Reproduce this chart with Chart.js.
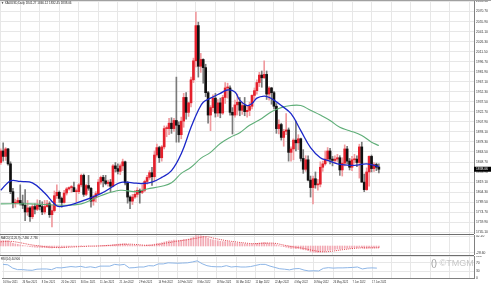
<!DOCTYPE html>
<html>
<head>
<meta charset="utf-8">
<script src="https://cdn.jsdelivr.net/npm/chart.js@4.4.1/dist/chart.umd.min.js"></script>
<style>
html, body { margin: 0; padding: 0; background: #fff; }
#wrap { position: relative; width: 491px; height: 290px; overflow: hidden; background: #fff; font-family: "Liberation Sans", Arial, sans-serif; }
canvas { position: absolute; left: 0; }
.sep { position: absolute; left: 0; width: 474px; height: 1px; background: #6e6e6e; z-index: 3; }
.lbl { position: absolute; left: 1px; color: #222; white-space: nowrap; line-height: 1; z-index: 4; }
#logo { position: absolute; left: 431px; top: 258px; font-size: 9px; color: #c6c6c6; white-space: nowrap; z-index: 4; }
</style>
</head>
<body>
<div id="wrap">
  <div class="sep" style="top:0;width:491px;background:#a0a0a0"></div>
  <canvas id="main" width="491" height="234" style="top:0"></canvas>
  <div class="sep" style="top:234px"></div>
  <canvas id="macd" width="491" height="20" style="top:235px"></canvas>
  <div class="sep" style="top:255px"></div>
  <canvas id="rsi" width="491" height="34" style="top:256px"></canvas>
  <div class="lbl" id="hdr" style="top:2px;font-size:3px"></div>
  <div class="lbl" id="macdLbl" style="top:237px;font-size:2.8px"></div>
  <div class="lbl" id="rsiLbl" style="top:258px;font-size:2.8px"></div>
  <div id="logo"><span style="color:#9a9a9a">()</span> &copy;TMGM</div>
</div>
<script>
// XAUUSD daily, 16 Nov 2021 .. 22 Jun 2022 (one value per bar)
var opens = [1848,1865,1857,1868,1846,1805,1788,1789,1792,1788,1785,
  1775,1781,1768,1783,1779,1785,1783,1775,1783,1787,1771,1777,1799,1804,1795,1789,1803,1809,1811,1811,1805,1805,1815,
  1829,1801,1814,1810,1791,1797,1802,1819,1826,1821,1817,1819,1813,1843,1839,1835,1843,1849,1818,1797,1791,
  1797,1801,1807,1804,1807,1820,1826,1833,1827,1859,1870,1855,1871,1898,1898,1906,1898,1910,1903,1889,
  1909,1944,1922,1936,1970,1998,2050,1990,2000,1988,1951,1918,1929,1943,1921,1936,1921,1944,1958,1958,1922,1918,1933,
  1937,1925,1932,1923,1925,1931,1947,1954,1966,1977,1973,1978,1949,1958,1951,1931,1898,1904,1885,1894,
  1896,1863,1868,1881,1877,1883,1854,1838,1852,1822,1811,1824,1815,1816,1841,1846,1853,1865,1853,1851,1853,1855,
  1837,1847,1868,1850,1841,1852,1853,1848,1871,1819,1808,1834,1857,1839,1845,1841.27];
var highs = [1868,1877,1870,1869,1849,1810,1794,1796,1815,1800,1808,
  1792,1783,1786,1787,1793,1792,1790,1792,1792,1790,1785,1806,1815,1806,1797,1807,1811,1812,1814,1819,1809,1817,1831,
  1831,1816,1829,1811,1800,1805,1823,1828,1829,1829,1822,1823,1845,1848,1846,1846,1853,1850,1820,1799,1801,
  1807,1811,1809,1815,1822,1829,1836,1841,1865,1875,1872,1873,1902,1902,1913,1914,1913,1974,1908,1915,
  1950,1951,1937,1974,2002,2070,2055,2009,2001,1993,1953,1932,1948,1950,1941,1943,1947,1966,1965,1961,1929,1940,1949,
  1944,1937,1944,1932,1937,1948,1958,1970,1981,1983,1998,1983,1960,1959,1953,1935,1911,1906,1897,1920,
  1899,1871,1883,1909,1889,1884,1867,1858,1858,1828,1828,1834,1823,1849,1850,1865,1870,1869,1857,1858,1860,1858,
  1855,1874,1872,1854,1857,1860,1858,1875,1878,1831,1840,1858,1859,1848,1847,1846.12];
var lows = [1845,1850,1851,1844,1802,1781,1782,1787,1785,1780,1762,
  1770,1761,1765,1772,1777,1778,1771,1772,1782,1767,1753,1775,1795,1789,1782,1788,1800,1807,1804,1805,1790,1802,1812,
  1798,1799,1807,1782,1785,1790,1800,1816,1812,1815,1813,1805,1812,1834,1831,1830,1836,1815,1788,1780,1786,
  1795,1797,1788,1802,1805,1816,1823,1814,1821,1856,1848,1850,1868,1886,1889,1891,1894,1878,1878,1883,
  1900,1912,1916,1930,1966,1989,1974,1981,1965,1945,1906,1895,1923,1915,1916,1914,1919,1935,1943,1918,1890,1915,1918,
  1917,1919,1917,1915,1917,1927,1941,1949,1960,1959,1972,1941,1940,1934,1927,1891,1890,1881,1872,1889,
  1850,1850,1852,1865,1867,1850,1832,1835,1821,1797,1787,1810,1807,1812,1835,1844,1850,1846,1843,1847,1849,1829,
  1828,1843,1846,1837,1836,1847,1842,1825,1819,1805,1807,1813,1834,1835,1836,1832.45];
var closes = [1865,1857,1868,1846,1805,1788,1789,1792,1788,1785,1775,
  1781,1768,1783,1779,1785,1783,1775,1783,1787,1771,1777,1799,1804,1795,1789,1803,1809,1811,1811,1805,1805,1815,1829,
  1801,1814,1810,1791,1797,1802,1819,1826,1821,1817,1819,1813,1843,1839,1835,1843,1849,1818,1797,1791,1797,
  1801,1807,1804,1807,1820,1826,1833,1827,1859,1870,1855,1871,1898,1898,1906,1898,1910,1903,1889,1909,
  1944,1922,1936,1970,1998,2050,1990,2000,1988,1951,1918,1929,1943,1921,1936,1921,1944,1958,1958,1922,1918,1933,1937,
  1925,1932,1923,1925,1931,1947,1954,1966,1977,1973,1978,1949,1958,1951,1931,1898,1904,1885,1894,1896,
  1863,1868,1881,1877,1883,1854,1838,1852,1822,1811,1824,1815,1816,1841,1846,1853,1865,1853,1851,1853,1855,1837,
  1847,1868,1850,1841,1852,1853,1848,1871,1819,1808,1834,1857,1839,1845,1841,1838.06];

// moving averages: bar index / price
var maFastIdx = [0,4,8,13,18,22,24,30,41,48,50,54,58,62,66,70,74,78,81,83,86,90,93,96,98,101,103,105,108,110,112,115,119,123,127,131,134,138,142,146,150,155];
var maFastVal = [1807,1821,1820,1818,1803,1787,1783,1787,1802,1817,1819,1818,1817,1819,1826,1836,1861,1900,1925,1937,1943,1950,1955,1952,1940,1932,1935,1943,1946,1944,1940,1932,1920,1895,1870,1855,1851,1846,1844,1844,1846,1842];
var maSlowIdx = [0,12,25,33,41,49,55,60,66,70,74,78,82,86,90,94,98,102,107,111,115,119,123,127,131,135,139,143,148,152,155];
var maSlowVal = [1787,1787,1785,1787,1799,1807,1805,1809,1813,1818,1832,1841,1854,1863,1876,1885,1892,1903,1913,1923,1929,1932,1932,1925,1918,1910,1900,1895,1888,1878,1873];

// MACD(12,26,9) main, one per bar; signal read at sample bars
var macdMain = [22,23,23,22,17,12,9,7,5,3,1,
  -1,-3,-4,-5,-6,-6,-7,-7,-7,-8,-8,-7,-6,-6,-6,-5,-4,-3,-2,-2,-2,-1,1,
  0,0,1,0,0,0,1,2,3,3,4,4,6,7,8,9,10,9,7,5,4,
  3,3,2,2,3,4,5,5,8,11,12,14,17,20,22,23,25,25,24,25,
  28,28,30,34,38,45,44,44,42,38,33,29,27,24,22,20,19,19,19,16,14,13,12,
  11,10,9,8,7,8,9,11,13,14,15,13,12,11,9,5,2,-1,-3,-5,
  -8,-10,-10,-11,-11,-13,-16,-17,-20,-24,-26,-27,-28,-26,-24,-22,-19,-18,-16,-15,-13,-13,
  -12,-10,-9,-9,-8,-7,-7,-5,-7,-10,-10,-8,-8,-8,-8,-7.46];
var signalIdx = [0,4,8,12,16,20,24,28,32,36,40,44,48,52,56,60,64,68,72,76,80,84,88,92,96,100,104,108,112,116,120,124,128,132,136,140,144,148,152,155];
var signalVal = [18,20,14,6,0,-5,-7,-5,-3,-1,0,2,5,8,6,3,6,13,20,26,33,40,32,24,18,13,10,12,12,4,-4,-10,-19,-25,-22,-16,-11,-8,-8,-7.736];

// RSI(14), read every second bar
var rsiEvery2 = [62,60,45,38,38,36,
  35,40,41,41,38,47,46,49,52,50,53,
  48,51,47,54,54,54,62,59,62,46,47,
  50,50,56,55,64,64,69,68,67,68,
  69,73,78,65,56,52,51,51,56,50,52,
  50,50,52,57,62,62,54,48,42,40,
  37,42,43,36,32,33,32,44,47,45,46,
  46,47,48,50,41,45,46,45];

var dateTicks = ['16 Nov 2021','26 Nov 2021','8 Dec 2021','20 Dec 2021','30 Dec 2021','11 Jan 2022','21 Jan 2022',
  '2 Feb 2022','14 Feb 2022','24 Feb 2022','8 Mar 2022','18 Mar 2022','30 Mar 2022','11 Apr 2022','22 Apr 2022',
  '4 May 2022','16 May 2022','26 May 2022','7 Jun 2022','17 Jun 2022'];
var priceTicks = [2085.5,2070.7,2055.9,2041.1,2026.3,2011.5,1996.7,1981.9,1967.1,1952.3,1937.5,1922.7,
  1907.9,1893.1,1878.3,1863.5,1848.7,1833.9,1819.1,1804.3,1789.5,1774.7,1759.9,1745.1];
var macdTicks = [42.1, 0, -28.6];
var rsiTicks = [100, 70, 30, 0];

var FONT = "'Liberation Sans', Arial, sans-serif";
var GRID = '#e7e7e7';
var AXIS = '#808080';
var n = closes.length;
var barsPerLabel = 8;
var gridIdx = [];
for (var k = 0; k <= 192; k += barsPerLabel) gridIdx.push(k);

document.getElementById('hdr').textContent = '\u25BC XAUUSD,Daily  ' + opens[n-1].toFixed(2) + ' ' + highs[n-1].toFixed(2) + ' ' + lows[n-1].toFixed(2) + ' ' + closes[n-1].toFixed(2);
document.getElementById('macdLbl').textContent = 'MACD(12,26,9) ' + macdMain[n-1].toFixed(3) + ' ' + signalVal[signalVal.length-1].toFixed(3);
document.getElementById('rsiLbl').textContent = 'RSI(14) 44.906';

function xScale(showLabels, height) {
  return {
    type: 'linear', min: -0.3, max: 194, offset: false,
    afterBuildTicks: function (s) { s.ticks = gridIdx.map(function (v) { return { value: v }; }); },
    afterFit: function (s) { s.height = height; },
    grid: { color: GRID, drawTicks: false, offset: false },
    border: { display: showLabels, color: AXIS },
    ticks: {
      display: showLabels, align: 'start', padding: 3, maxRotation: 0, autoSkip: false,
      font: { size: 2.6, family: FONT }, color: '#333',
      callback: function (v) { return dateTicks[v / barsPerLabel] || ''; }
    }
  };
}
function yScale(min, max, tickList, fmt) {
  return {
    position: 'right', min: min, max: max,
    afterBuildTicks: function (s) { s.ticks = tickList.map(function (v) { return { value: v }; }); },
    afterFit: function (s) { s.width = 17; s.paddingTop = 0; s.paddingBottom = 0; },
    grid: { color: GRID, drawTicks: false },
    border: { color: AXIS },
    ticks: { padding: 2, font: { size: 3.3, family: FONT }, color: '#333', callback: fmt }
  };
}
var base = {
  responsive: false, animation: false, events: [],
  plugins: { legend: { display: false }, tooltip: { enabled: false } }
};

var lastPriceTag = {
  id: 'lastPriceTag',
  afterDraw: function (chart) {
    var a = chart.chartArea, ctx = chart.ctx;
    var y = chart.scales.y.getPixelForValue(closes[n-1]);
    ctx.save();
    ctx.fillStyle = '#000';
    ctx.fillRect(a.right, y - 2.5, chart.width - a.right, 5);
    ctx.fillStyle = '#fff';
    ctx.font = '3.3px ' + FONT;
    ctx.textBaseline = 'middle';
    ctx.fillText(closes[n-1].toFixed(2), a.right + 2, y);
    ctx.restore();
  }
};

var up = closes.map(function (c, i) { return c >= opens[i]; });

new Chart(document.getElementById('main'), {
  type: 'bar',
  data: {
    datasets: [
      { type: 'line', data: maFastIdx.map(function (x, i) { return { x: x, y: maFastVal[i] }; }),
        borderColor: '#1b27c9', borderWidth: 1.3, pointRadius: 0, tension: 0.4, order: 0 },
      { type: 'line', data: maSlowIdx.map(function (x, i) { return { x: x, y: maSlowVal[i] }; }),
        borderColor: '#5fae78', borderWidth: 1.1, pointRadius: 0, tension: 0.4, order: 1 },
      { data: closes.map(function (c, i) { return { x: i, y: [opens[i], c] }; }),
        backgroundColor: up.map(function (u) { return u ? '#e4202c' : '#111111'; }),
        barThickness: 2, minBarLength: 1, grouped: false, order: 2 },
      { data: closes.map(function (c, i) { return { x: i, y: [lows[i], highs[i]] }; }),
        backgroundColor: up.map(function (u) { return u ? '#f09a9e' : '#7a7a7a'; }),
        barThickness: 1, grouped: false, order: 3 }
    ]
  },
  options: Object.assign({}, base, {
    layout: { padding: { top: 1, bottom: 0, left: 0, right: 0 } },
    scales: {
      x: xScale(false, 0),
      y: yScale(1742.5, 2086.3, priceTicks, function (v) { return v.toFixed(2); })
    }
  }),
  plugins: [lastPriceTag]
});

new Chart(document.getElementById('macd'), {
  type: 'bar',
  data: {
    datasets: [
      { type: 'line', data: signalIdx.map(function (x, i) { return { x: x, y: signalVal[i] }; }),
        borderColor: '#e0454f', borderWidth: 1, borderDash: [1, 1], pointRadius: 0, tension: 0.4, order: 0 },
      { data: macdMain.map(function (v, i) { return { x: i, y: v }; }),
        backgroundColor: '#f2aab4', barThickness: 1, grouped: false, order: 1 }
    ]
  },
  options: Object.assign({}, base, {
    layout: { padding: 0 },
    scales: {
      x: xScale(false, 0),
      y: yScale(-38.7, 47.3, macdTicks, function (v) { return v.toFixed(2); })
    }
  })
});

new Chart(document.getElementById('rsi'), {
  type: 'line',
  data: {
    datasets: [
      { data: rsiEvery2.map(function (v, i) { return { x: i * 2, y: v }; }),
        borderColor: '#8db5e6', borderWidth: 1, pointRadius: 0, tension: 0 }
    ]
  },
  options: Object.assign({}, base, {
    layout: { padding: 0 },
    scales: {
      x: xScale(true, 12),
      y: yScale(0, 100, rsiTicks, function (v) { return String(v); })
    }
  })
});
</script>
</body>
</html>
